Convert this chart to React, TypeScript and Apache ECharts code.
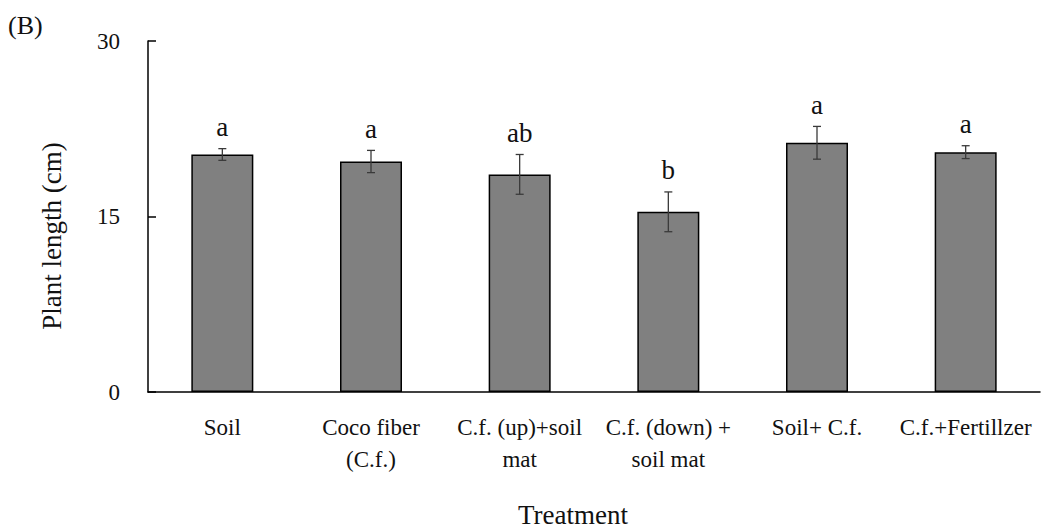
import React, { useEffect, useRef } from "react";
import * as echarts from "echarts";

// Treatment groups and their measured plant length (cm)
const treatments = [
  "Soil",
  "Coco fiber\n(C.f.)",
  "C.f. (up)+soil\nmat",
  "C.f. (down) +\nsoil mat",
  "Soil+ C.f.",
  "C.f.+Fertillzer",
];
const plantLength = [20.3, 19.7, 18.6, 15.4, 21.3, 20.5];
const stdError = [0.5, 0.95, 1.7, 1.7, 1.4, 0.55];
const groupLetters = ["a", "a", "ab", "b", "a", "a"];
const yTicks = [0, 15, 30];

const SERIF = "Liberation Serif";

export default function App() {
  const ref = useRef<HTMLDivElement>(null);

  useEffect(() => {
    if (!ref.current) return;
    const chart = echarts.init(ref.current, null, { renderer: "svg" });

    const errData = plantLength.map((v, i) => [i, v, stdError[i]]);

    chart.setOption({
      animation: false,
      backgroundColor: "#ffffff",
      textStyle: { fontFamily: SERIF },
      grid: { left: 148, right: 5, top: 41, bottom: 139, containLabel: false },
      xAxis: {
        type: "category",
        data: treatments,
        axisLine: { show: true, lineStyle: { color: "#000", width: 1.5 } },
        axisTick: { show: false },
        axisLabel: {
          color: "#111",
          fontFamily: SERIF,
          fontSize: 23,
          lineHeight: 32,
          margin: 19,
          interval: 0,
        },
      },
      yAxis: {
        type: "value",
        min: yTicks[0],
        max: yTicks[yTicks.length - 1],
        interval: yTicks[1] - yTicks[0],
        splitLine: { show: false },
        axisLine: { show: true, lineStyle: { color: "#000", width: 1.5 } },
        axisTick: { show: true, inside: true, length: 8, lineStyle: { color: "#000", width: 1.5 } },
        axisLabel: {
          color: "#111",
          fontFamily: SERIF,
          fontSize: 23,
          margin: 28,
        },
      },
      graphic: [
        {
          type: "text",
          left: 8,
          top: 12,
          style: { text: "(B)", fontFamily: SERIF, fontSize: 26, fill: "#111" },
        },
        {
          type: "text",
          x: 52,
          y: 236,
          rotation: Math.PI / 2,
          style: {
            text: "Plant length (cm)",
            fontFamily: SERIF,
            fontSize: 27,
            fill: "#111",
            align: "center",
            verticalAlign: "middle",
          },
        },
        {
          type: "text",
          x: 573,
          y: 515,
          style: {
            text: "Treatment",
            fontFamily: SERIF,
            fontSize: 27,
            fill: "#111",
            align: "center",
            verticalAlign: "middle",
          },
        },
      ],
      series: [
        {
          type: "bar",
          data: plantLength,
          barWidth: 62,
          itemStyle: { color: "#808080", borderColor: "#000", borderWidth: 1.5 },
        },
        {
          type: "custom",
          data: errData,
          encode: { x: 0, y: 1 },
          z: 5,
          clip: false,
          renderItem: (params: any, api: any) => {
            const idx = api.value(0);
            const v = api.value(1);
            const e = api.value(2);
            const top = api.coord([idx, v + e]);
            const bot = api.coord([idx, v - e]);
            const cap = 4;
            const lineStyle = { stroke: "#3a3a3a", lineWidth: 1.3 };
            return {
              type: "group",
              children: [
                { type: "line", shape: { x1: top[0], y1: top[1], x2: bot[0], y2: bot[1] }, style: lineStyle },
                { type: "line", shape: { x1: top[0] - cap, y1: top[1], x2: top[0] + cap, y2: top[1] }, style: lineStyle },
                { type: "line", shape: { x1: bot[0] - cap, y1: bot[1], x2: bot[0] + cap, y2: bot[1] }, style: lineStyle },
                {
                  type: "text",
                  x: top[0],
                  y: top[1] - 8,
                  style: {
                    text: groupLetters[params.dataIndex],
                    fontFamily: SERIF,
                    fontSize: 27,
                    fill: "#111",
                    align: "center",
                    verticalAlign: "bottom",
                  },
                },
              ],
            };
          },
        },
      ],
    });

    return () => chart.dispose();
  }, []);

  return (
    <div
      ref={ref}
      style={{ position: "absolute", left: 0, top: 0, width: 1045, height: 531 }}
    />
  );
}
